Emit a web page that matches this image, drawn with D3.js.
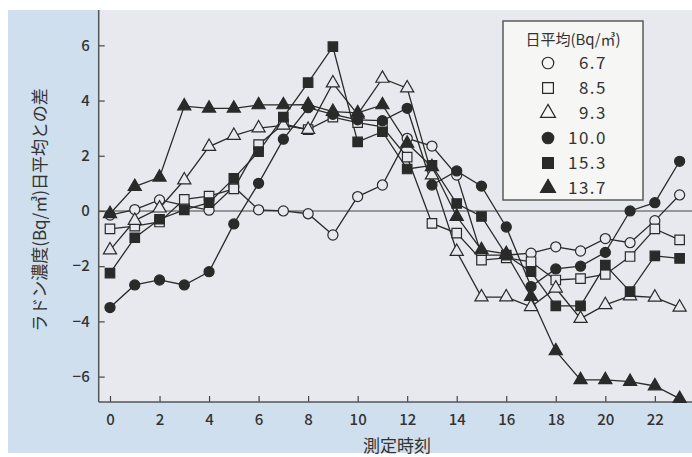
<!DOCTYPE html>
<html><head><meta charset="utf-8">
<script src="https://cdn.jsdelivr.net/npm/d3@7"></script>
<style>body{margin:0;background:#fff}svg{display:block}</style>
</head><body>
<script>
const hours = [0,1,2,3,4,5,6,7,8,9,10,11,12,13,14,15,16,17,18,19,20,21,22,23];
const xTicks = [0,2,4,6,8,10,12,14,16,18,20,22];
const yTicks = [-6,-4,-2,0,2,4,6];
const legendLabels = ["6.7","8.5","9.3","10.0","15.3","13.7"];
const s67  = [-0.15,0.05,0.4,0.2,0.03,0.88,0.04,0.0,-0.1,-0.87,0.52,0.94,2.63,2.35,1.3,-1.6,-1.6,-1.53,-1.3,-1.45,-1.0,-1.15,-0.35,0.58];
const s85  = [-0.65,-0.55,-0.4,0.42,0.54,0.8,2.4,3.15,2.95,3.4,3.2,3.05,1.95,-0.45,-0.8,-1.78,-1.7,-1.84,-2.5,-2.45,-2.3,-1.65,-0.65,-1.05];
const s93  = [-1.42,-0.35,0.1,1.12,2.33,2.73,3.0,3.1,2.95,4.63,3.5,4.8,4.45,1.3,-1.47,-3.12,-3.12,-3.47,-2.8,-3.9,-3.4,-3.08,-3.13,-3.49];
const s100 = [-3.5,-2.68,-2.5,-2.68,-2.2,-0.47,1.0,2.6,3.74,3.5,3.3,3.27,3.72,0.94,1.45,0.9,-0.58,-2.74,-2.1,-2.0,-1.5,0.0,0.3,1.8];
const s153 = [-2.25,-0.97,-0.3,0.04,0.3,1.18,2.15,3.4,4.65,5.95,2.5,2.87,1.52,1.65,0.27,-0.2,-1.6,-2.2,-3.44,-3.44,-1.96,-2.92,-1.63,-1.72];
const s137 = [-0.1,0.88,1.22,3.8,3.72,3.72,3.84,3.84,3.85,3.6,3.55,3.84,2.45,1.6,-0.2,-1.41,-1.55,-3.1,-5.07,-6.12,-6.12,-6.18,-6.34,-6.8];
const seriesValues = [s67, s85, s93, s100, s153, s137];
const seriesShapes = ["circle","square","triangle","circle","square","triangle"];
const seriesFilled = [false,false,false,true,true,true];

const W = 692, H = 457;
const font = "'Noto Sans CJK JP','Noto Sans',sans-serif";
const plotBg = "#e8e9ee";
const ink = "#2a2a2a";
const svg = d3.select("body").append("svg").attr("width", W).attr("height", H);

// outer blue panel
svg.append("rect").attr("x", 8).attr("y", 10).attr("width", W - 8).attr("height", 443).attr("fill", "#cfdfed");
const pLeft = 98.7, pRight = 692, pTop = 10, pBottom = 402;
svg.append("rect").attr("x", pLeft).attr("y", pTop).attr("width", pRight - pLeft).attr("height", pBottom - pTop).attr("fill", plotBg);

const x = d3.scaleLinear().domain([-0.456, 23.5]).range([pLeft, pRight]);
const y = d3.scaleLinear().domain([-6.92, 7.28]).range([pBottom, pTop]);

// zero line
svg.append("line").attr("x1", pLeft).attr("x2", pRight).attr("y1", y(0)).attr("y2", y(0))
  .attr("stroke", "#444").attr("stroke-width", 1.1);

// axes
const yAxis = d3.axisLeft(y).tickValues(yTicks).tickSize(-6).tickPadding(9)
  .tickFormat(d => d < 0 ? "\u2212" + Math.abs(d) : String(d));
const gy = svg.append("g").attr("transform", `translate(${pLeft},0)`).call(yAxis);
const xAxis = d3.axisBottom(x).tickValues(xTicks).tickSize(-6).tickPadding(12);
const gx = svg.append("g").attr("transform", `translate(0,${pBottom})`).call(xAxis);
[gx, gy].forEach(g => {
  g.select(".domain").remove();
  g.selectAll(".tick line").attr("stroke", "#444").attr("stroke-width", 1.2);
  g.selectAll(".tick text").attr("fill", "#333").style("font-family", font)
    .style("font-size", "15px").style("font-weight", "500");
});
svg.append("line").attr("x1", pLeft).attr("x2", pLeft).attr("y1", pTop).attr("y2", pBottom).attr("stroke", "#555").attr("stroke-width", 1.5);
svg.append("line").attr("x1", pLeft).attr("x2", pRight).attr("y1", pBottom).attr("y2", pBottom).attr("stroke", "#555").attr("stroke-width", 1.5);

// axis titles
svg.append("text").attr("x", 397).attr("y", 452).attr("text-anchor", "middle")
  .style("font-family", font).style("font-size", "17px").attr("fill", "#333").text("測定時刻");
svg.append("text").attr("transform", "translate(46,210) rotate(-90)").attr("text-anchor", "middle")
  .style("font-family", font).style("font-size", "17px").attr("fill", "#333").text("ラドン濃度(Bq/㎥)日平均との差");

const symType = {circle: d3.symbolCircle, square: d3.symbolSquare, triangle: d3.symbolTriangle};
const symSize = {circle: 80, square: 90, triangle: 75};
const line = d3.line().x((d, i) => x(hours[i])).y(d => y(d));

seriesValues.forEach((vals, k) => {
  svg.append("path").datum(vals).attr("d", line).attr("fill", "none")
    .attr("stroke", ink).attr("stroke-width", 1.3);
});
seriesValues.forEach((vals, k) => {
  const shape = seriesShapes[k];
  svg.append("g").selectAll("path").data(vals).join("path")
    .attr("transform", (d, i) => `translate(${x(hours[i])},${y(d)})`)
    .attr("d", d3.symbol().type(symType[shape]).size(symSize[shape]))
    .attr("fill", seriesFilled[k] ? ink : plotBg)
    .attr("stroke", ink).attr("stroke-width", 1.2);
});

// legend
const lg = svg.append("g");
lg.append("rect").attr("x", 503).attr("y", 21).attr("width", 140).attr("height", 179)
  .attr("fill", "#f6f6f4").attr("stroke", "#5a5a5a").attr("stroke-width", 1.5);
lg.append("text").attr("x", 573).attr("y", 45).attr("text-anchor", "middle")
  .style("font-family", font).style("font-size", "15px").attr("fill", "#333").text("日平均(Bq/㎥)");
legendLabels.forEach((lab, k) => {
  const cy = 63 + k * 25;
  const shape = seriesShapes[k];
  lg.append("path").attr("transform", `translate(548,${cy})`)
    .attr("d", d3.symbol().type(symType[shape]).size(symSize[shape] * 1.3))
    .attr("fill", seriesFilled[k] ? ink : "#f6f6f4").attr("stroke", ink).attr("stroke-width", 1.2);
  lg.append("text").attr("x", 607).attr("y", cy + 6).attr("text-anchor", "end")
    .style("font-family", font).style("font-size", "17px").style("letter-spacing", "1.5px")
    .attr("fill", "#333").text(lab);
});
</script>
</body></html>
